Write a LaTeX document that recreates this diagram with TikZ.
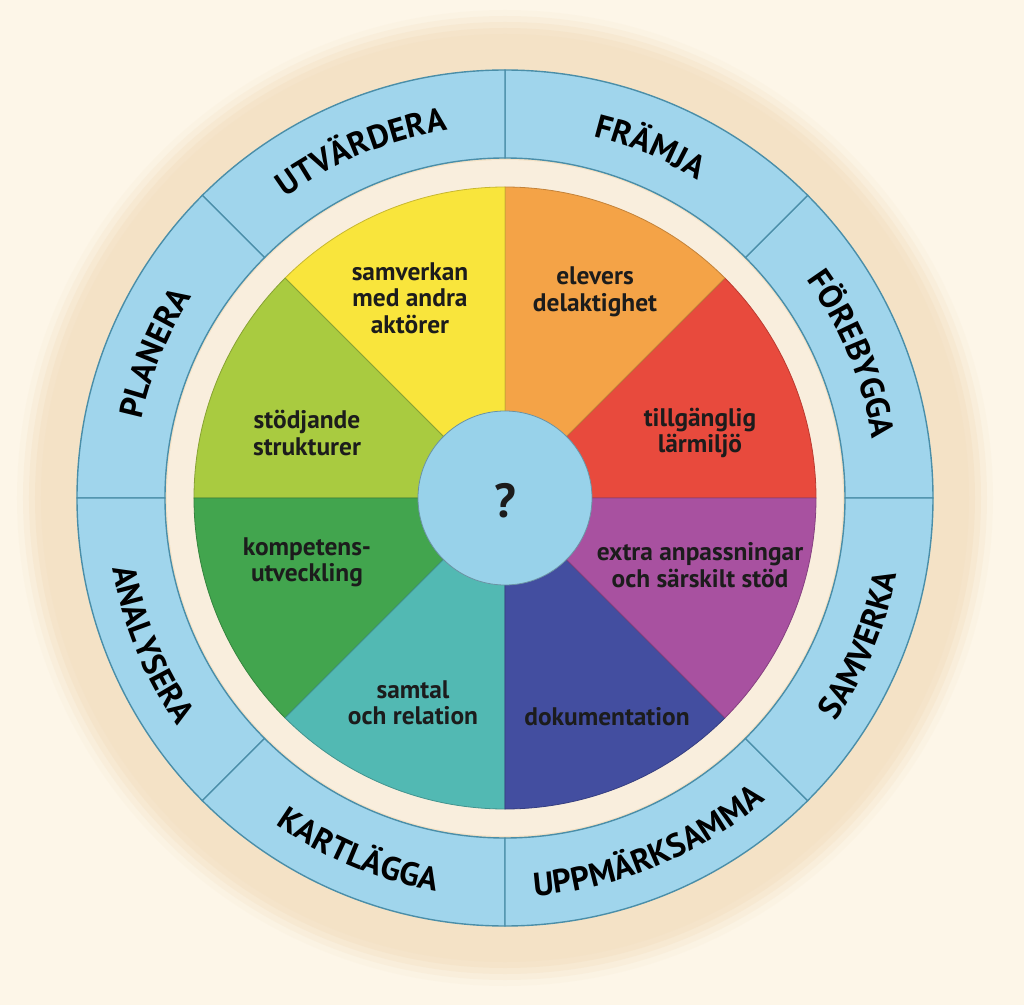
\documentclass[tikz,border=0pt]{standalone}
\usepackage{fontspec}
\setmainfont{PT Sans}
\usetikzlibrary{decorations.text}
\definecolor{bg}{HTML}{FDF6E8}
\definecolor{halo}{HTML}{F4E2C6}
\definecolor{gap}{HTML}{F9EEDD}
\definecolor{ringblue}{HTML}{A0D5EC}
\definecolor{ringline}{HTML}{4A8EA8}
\definecolor{cyellow}{HTML}{F9E53C}
\definecolor{corange}{HTML}{F4A347}
\definecolor{cred}{HTML}{E84A3D}
\definecolor{cpurple}{HTML}{A851A0}
\definecolor{cdblue}{HTML}{434EA0}
\definecolor{cteal}{HTML}{52B9B3}
\definecolor{cgreen}{HTML}{42A54E}
\definecolor{clgreen}{HTML}{A9CB40}
\definecolor{cmid}{HTML}{98D2EA}
\definecolor{ink}{HTML}{1C1C1C}
\newcommand\myringfont{\bfseries\fontsize{33}{33}\selectfont}
\newcommand\mysecfont{\bfseries\fontsize{25.5}{26.5}\selectfont}
\tikzset{
  ringseg/.style={fill=ringblue, draw=ringline, line width=1.4},
  sectorfill/.style={fill=#1, draw=#1!80!black, line width=0.8},
  sectext/.style={font=\mysecfont, text=ink, align=center, inner sep=0pt},
  ringlabel/.style={decorate, decoration={text along path, text align=center, text={#1}}}
}
\begin{document}
\begin{tikzpicture}[x=1bp,y=1bp]
\fill[bg] (-505,-507) rectangle (519,498);
\useasboundingbox (-505,-507) rectangle (519,498);
% soft beige halo
\foreach \r/\o in {488/0.12, 482/0.25, 476/0.4, 470/0.6, 464/0.8, 458/1} {
  \fill[halo, opacity=\o] (0,0) circle[radius=\r];
}
% outer blue ring segments
\foreach \a [evaluate=\a as \b using \a+45] in {0,45,...,315} {
  \draw[ringseg] (\a:340) -- (\a:428) arc[start angle=\a, end angle=\b, radius=428]
     -- (\b:340) arc[start angle=\b, end angle=\a, radius=340] -- cycle;
}
% gap
\fill[gap] (0,0) circle[radius=338];
% coloured sectors
\foreach \a/\c [evaluate=\a as \b using \a+45] in {0/cred,45/corange,90/cyellow,135/clgreen,180/cgreen,225/cteal,270/cdblue,315/cpurple} {
  \filldraw[sectorfill=\c] (0,0) -- (\a:311) arc[start angle=\a, end angle=\b, radius=311] -- cycle;
}
% centre
\filldraw[fill=cmid, draw=cmid!70!black, line width=0.8] (0,0) circle[radius=87];
\node[font=\bfseries\fontsize{48}{48}\selectfont, text=ink] (q) at (0,-3) {?};
% sector texts
\node[sectext] (s1) at (-95,200) {samverkan\\med andra\\aktörer};
\node[sectext] (s2) at (90,206) {elevers\\delaktighet};
\node[sectext] (s3) at (195,65) {tillgänglig\\lärmiljö};
\node[sectext] (s4) at (195,-67) {extra anpassningar\\och särskilt stöd};
\node[sectext] (s5) at (102,-219) {dokumentation};
\node[sectext] (s6) at (-92,-205) {samtal\\och relation};
\node[sectext] (s7) at (-198,-64) {kompetens-\\utveckling};
\node[sectext] (s8) at (-198,65) {stödjande\\strukturer};
% ring labels (top half read clockwise, bottom half counter-clockwise)
\path[ringlabel={|\myringfont|UTVÄRDERA}] (134.5:372) arc[start angle=134.5, end angle=90.5, radius=372];
\path[ringlabel={|\myringfont|FRÄMJA}] (89.5:372) arc[start angle=89.5, end angle=45.5, radius=372];
\path[ringlabel={|\myringfont|FÖREBYGGA}] (44.5:372) arc[start angle=44.5, end angle=0.5, radius=372];
\path[ringlabel={|\myringfont|PLANERA}] (179.5:372) arc[start angle=179.5, end angle=135.5, radius=372];
\path[ringlabel={|\myringfont|SAMVERKA}] (-44.5:399) arc[start angle=-44.5, end angle=-0.5, radius=399];
\path[ringlabel={|\myringfont|UPPMÄRKSAMMA}] (-89.5:399) arc[start angle=-89.5, end angle=-45.5, radius=399];
\path[ringlabel={|\myringfont|KARTLÄGGA}] (-134.5:399) arc[start angle=-134.5, end angle=-90.5, radius=399];
\path[ringlabel={|\myringfont|ANALYSERA}] (-179.5:399) arc[start angle=-179.5, end angle=-135.5, radius=399];
\end{tikzpicture}
\end{document}
